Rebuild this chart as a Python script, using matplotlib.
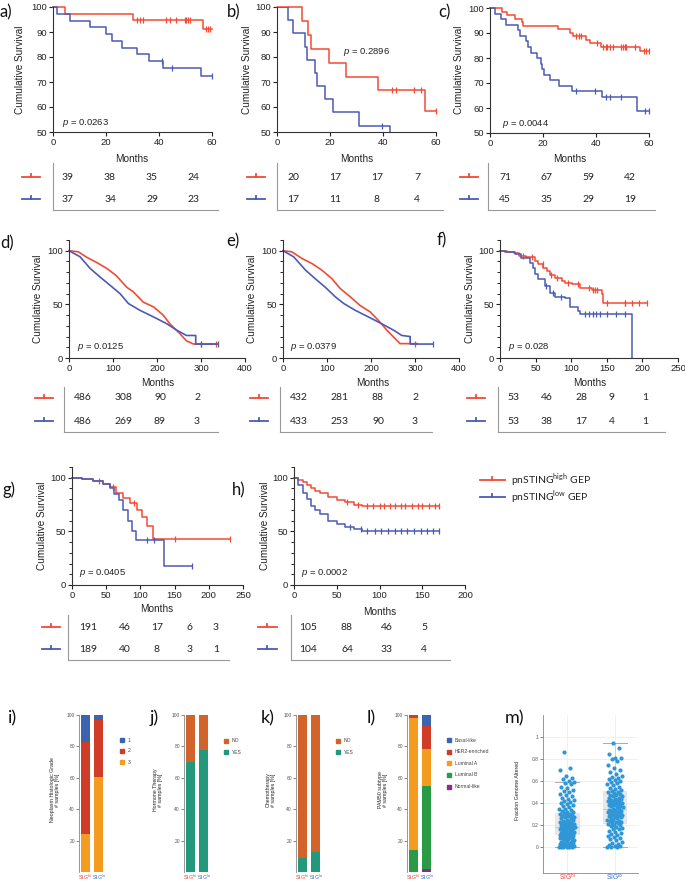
import numpy as np
import matplotlib
matplotlib.use('Agg')
import matplotlib.pyplot as plt

plt.rcParams['font.family'] = ['Liberation Sans', 'DejaVu Sans']
plt.rcParams['mathtext.fontset'] = 'custom'
plt.rcParams['mathtext.rm'] = 'Lato'
plt.rcParams['mathtext.it'] = 'Liberation Sans:italic'

RED = '#f24a35'
BLUE = '#4b5bb3'

# ---------------- Kaplan-Meier data ----------------
a_hi_t = [0, 4.7, 30.2, 56.6, 60]
a_hi_s = [100, 97.4, 94.9, 91.4, 91.4]
a_hi_c = [31.7, 32.7, 34, 42.8, 44, 46.5, 49.7, 50.3, 50.9, 51.6, 57.9, 58.5, 59.4]
a_lo_t = [0, 1.5, 6.5, 13.8, 19.9, 22.4, 26.2, 31.8, 36.1, 41.5, 55.7, 60]
a_lo_s = [100, 97.3, 94.6, 91.9, 89.2, 86.5, 83.8, 81.1, 78.4, 75.5, 72.3, 72.3]
a_lo_c = [41.1, 45, 60]
a_p = '0.0263'

b_hi_t = [0, 9.5, 11.7, 12.8, 19.7, 25.9, 38, 55.7, 60]
b_hi_s = [100, 94.4, 88.9, 83.3, 77.8, 72.2, 66.7, 58.3, 58.3]
b_hi_c = [43.3, 45, 51.8, 54.4, 60]
b_lo_t = [0, 4.2, 6.1, 10.5, 11.4, 14.3, 15.2, 18.1, 21.2, 31.1, 42.7]
b_lo_s = [100, 94.7, 89.5, 84.2, 78.9, 73.7, 68.4, 63.2, 57.9, 52.6, 47.4]
b_lo_c = [39.5]
b_p = '0.2896'

c_hi_t = [0, 4.4, 6.3, 9.4, 11.9, 12.6, 25.7, 30, 31.4, 36.4, 37.7, 41.7, 56.5, 60]
c_hi_s = [100, 98.6, 97.2, 95.8, 94.4, 93.0, 91.5, 90.1, 88.7, 87.3, 85.9, 84.4, 82.8, 82.8]
c_hi_c = [32.6, 33.5, 34.5, 40.5, 42.7, 43.6, 44.3, 45.2, 46.4, 49.6, 50.2, 50.8, 51.5, 54.6, 58, 59, 60]
c_lo_t = [0, 1.9, 4.1, 5.9, 10.7, 11.3, 13.6, 14.2, 15.4, 17.6, 19.2, 19.8, 20.5, 22.6, 26.1, 31, 42.4, 55.6, 60]
c_lo_s = [100, 97.8, 95.6, 93.3, 91.1, 88.9, 86.7, 84.4, 82.2, 80, 77.8, 75.6, 73.3, 71.1, 68.9, 66.7, 64.4, 59.0, 59.0]
c_lo_c = [32.3, 39.5, 43.6, 45.2, 49.3, 58.4, 60]
c_p = '0.0044'

d_hi_t = [0, 21, 40, 63, 86, 108, 131, 146, 169, 192, 214, 229, 252, 267, 283, 335]
d_hi_s = [100, 99, 94, 89, 83.5, 76.6, 66, 61.7, 52, 47.7, 40, 32, 22.7, 16, 13, 13]
d_hi_c = [300, 335]
d_lo_t = [0, 25, 48, 70, 93, 116, 135, 161, 192, 222, 245, 267, 288, 288, 338]
d_lo_s = [100, 94.4, 83.5, 75.7, 67.9, 60, 50.8, 44.5, 38.3, 32, 25.9, 21, 21, 13, 13]
d_lo_c = [300, 338]
d_p = '0.0125'

e_hi_t = [0, 20, 43, 66, 88, 111, 130, 153, 175, 198, 217, 236, 255, 266, 305]
e_hi_s = [100, 99, 92.8, 88, 82, 74, 64.8, 57, 49, 43, 35, 26, 18, 13.4, 13.4]
e_hi_c = [300]
e_lo_t = [0, 24, 51, 73, 96, 119, 138, 164, 194, 224, 251, 270, 289, 289, 340]
e_lo_s = [100, 94.4, 82, 74, 66, 57, 50.8, 44.5, 38.3, 32, 26, 21, 20, 13, 13]
e_lo_c = [340]
e_p = '0.0379'

f_hi_t = [0, 10, 19, 26, 37, 49, 54, 61, 66, 70, 77, 87, 91, 101, 113, 129, 143, 145, 206]
f_hi_s = [100, 98.5, 97.5, 95.3, 94, 90.8, 87.5, 84, 81, 77.6, 75, 72, 70, 68.6, 65.7, 63.5, 60, 51.7, 51.7]
f_hi_c = [32, 45, 60, 72, 80, 95, 110, 125, 130, 133, 136, 150, 175, 176, 185, 195, 206]
f_lo_t = [0, 7, 21, 30, 42, 47, 49, 54, 63, 70, 77, 91, 98, 110, 113, 185]
f_lo_s = [100, 98.5, 96.5, 93.5, 89, 84, 78, 73.5, 67, 61, 57, 55.5, 48, 43.7, 40.8, 0]
f_lo_c = [65, 75, 85, 120, 125, 130, 135, 140, 150, 163, 175]
f_p = '0.028'

g_hi_t = [0, 15, 30, 45, 55, 65, 75, 85, 95, 103, 110, 118, 231]
g_hi_s = [100, 99, 97, 94, 91, 86, 81, 76, 70, 63, 55, 43, 43]
g_hi_c = [40, 60, 90, 150, 231]
g_lo_t = [0, 15, 30, 45, 55, 62, 68, 75, 82, 88, 93, 130, 135, 175]
g_lo_s = [100, 99, 97, 94, 90, 85, 79, 70, 60, 50, 42, 42, 18, 18]
g_lo_c = [110, 120, 175]
g_p = '0.0405'

h_hi_t = [0, 5, 10, 15, 20, 25, 30, 40, 50, 60, 70, 80, 170]
h_hi_s = [100, 98, 96, 93, 90, 88, 86, 82, 79, 77, 75, 74, 74]
h_hi_c = [62, 75, 85, 92, 100, 105, 112, 118, 125, 130, 138, 145, 150, 158, 165, 170]
h_lo_t = [0, 5, 10, 15, 20, 25, 30, 40, 50, 60, 70, 80, 170]
h_lo_s = [100, 93, 86, 80, 74, 70, 66, 60, 57, 54, 52, 50, 50]
h_lo_c = [65, 78, 85, 95, 102, 110, 118, 125, 132, 140, 148, 155, 162, 170]
h_p = '0.0002'

# numbers at risk
a_risk = ([39, 38, 35, 24], [37, 34, 29, 23])
b_risk = ([20, 17, 17, 7], [17, 11, 8, 4])
c_risk = ([71, 67, 59, 42], [45, 35, 29, 19])
d_risk = ([486, 308, 90, 2], [486, 269, 89, 3])
e_risk = ([432, 281, 88, 2], [433, 253, 90, 3])
f_risk = ([53, 46, 28, 9, 1], [53, 38, 17, 4, 1])
g_risk = ([191, 46, 17, 6, 3], [189, 40, 8, 3, 1])
h_risk = ([105, 88, 46, 5], [104, 64, 33, 4])

# ---------------- bar panels ----------------
groups = ['hi', 'lo']
i_cats = ['3', '2', '1']
i_hi = [24.4, 58.6, 17.0]
i_lo = [60.5, 36.3, 3.2]
i_cols = ['#f39c1f', '#d13c27', '#3a64ad']
j_cats = ['YES', 'NO']
j_hi = [70.0, 30.0]
j_lo = [78.0, 22.0]
k_cats = ['YES', 'NO']
k_hi = [9.0, 91.0]
k_lo = [13.0, 87.0]
jk_cols = ['#24987a', '#d2632a']
l_cats = ['Normal-like', 'Luminal B', 'Luminal A', 'HER2-enriched', 'Basal-like']
l_hi = [0.0, 14.0, 84.0, 2.0, 0.0]
l_lo = [2.0, 53.0, 23.5, 14.7, 6.8]
l_cols = ['#8e2a8f', '#2a9a45', '#f39c1f', '#d13c27', '#3a64ad']

# ---------------- fraction genome altered ----------------
m_hi = [0.00, 0.00, 0.00, 0.00, 0.00, 0.00, 0.01, 0.01, 0.01, 0.02, 0.02, 0.02, 0.03, 0.03, 0.03,
        0.04, 0.04, 0.05, 0.05, 0.05, 0.06, 0.06, 0.07, 0.07, 0.07, 0.08, 0.08, 0.09, 0.09, 0.10,
        0.10, 0.10, 0.11, 0.11, 0.11, 0.12, 0.12, 0.12, 0.13, 0.13, 0.13, 0.14, 0.14, 0.14, 0.15,
        0.15, 0.15, 0.16, 0.16, 0.16, 0.17, 0.17, 0.17, 0.18, 0.18, 0.18, 0.19, 0.19, 0.19, 0.20,
        0.20, 0.20, 0.21, 0.21, 0.22, 0.22, 0.22, 0.23, 0.23, 0.24, 0.24, 0.25, 0.25, 0.26, 0.26,
        0.27, 0.27, 0.28, 0.28, 0.29, 0.29, 0.30, 0.30, 0.31, 0.32, 0.32, 0.33, 0.34, 0.35, 0.35,
        0.36, 0.37, 0.38, 0.39, 0.40, 0.41, 0.42, 0.43, 0.44, 0.45, 0.46, 0.47, 0.48, 0.50, 0.51,
        0.52, 0.54, 0.55, 0.57, 0.58, 0.59, 0.60, 0.62, 0.63, 0.65, 0.70, 0.72, 0.86]
m_lo = [0.00, 0.00, 0.00, 0.01, 0.01, 0.02, 0.03, 0.04, 0.05, 0.06, 0.07, 0.08, 0.09, 0.10, 0.11,
        0.12, 0.13, 0.14, 0.15, 0.16, 0.16, 0.17, 0.18, 0.19, 0.20, 0.20, 0.21, 0.22, 0.22, 0.23,
        0.23, 0.24, 0.24, 0.25, 0.25, 0.26, 0.26, 0.27, 0.27, 0.28, 0.28, 0.29, 0.29, 0.30, 0.30,
        0.31, 0.31, 0.32, 0.32, 0.33, 0.33, 0.34, 0.34, 0.35, 0.35, 0.36, 0.36, 0.37, 0.37, 0.38,
        0.38, 0.39, 0.39, 0.40, 0.40, 0.41, 0.41, 0.42, 0.42, 0.43, 0.43, 0.44, 0.44, 0.45, 0.45,
        0.46, 0.46, 0.47, 0.47, 0.48, 0.49, 0.50, 0.50, 0.51, 0.52, 0.53, 0.54, 0.55, 0.56, 0.57,
        0.58, 0.59, 0.60, 0.61, 0.62, 0.63, 0.64, 0.65, 0.66, 0.68, 0.70, 0.72, 0.75, 0.78, 0.80,
        0.81, 0.81, 0.85, 0.90, 0.95]
m_q1 = [0.12, 0.22]
m_med = [0.18, 0.35]
m_q3 = [0.31, 0.51]
m_wlo = [0.0, 0.0]
m_whi = [0.59, 0.95]

# =====================================================
W, H = 685, 884
fig = plt.figure(figsize=(W / 100, H / 100), dpi=100)


def add_ax(x0, y0, x1, y1):
    return fig.add_axes([x0 / W, 1 - y1 / H, (x1 - x0) / W, (y1 - y0) / H])


def surv_at(t, times, surv):
    idx = np.searchsorted(np.asarray(times), np.asarray(t), side='right') - 1
    return np.asarray(surv)[np.clip(idx, 0, len(surv) - 1)]


def km(ax, times, surv, cens, color, step=True, clip=False):
    if step:
        ax.step(times, surv, where='post', color=color, lw=1.1, clip_on=clip)
        cy = surv_at(cens, times, surv)
    else:
        ax.plot(times, surv, color=color, lw=1.2, clip_on=clip)
        cy = np.interp(cens, times, surv)
    ax.plot(cens, cy, ls='none', marker='|', ms=4, mew=0.9, color=color, clip_on=False)


def km_axes(box, xmax, xticks, ylo, yhi, yticks, minor=None):
    ax = add_ax(*box)
    ax.set_xlim(0, xmax)
    ax.set_ylim(ylo, yhi)
    for s in ['top', 'right']:
        ax.spines[s].set_visible(False)
    for s in ['left', 'bottom']:
        ax.spines[s].set_linewidth(0.8)
        ax.spines[s].set_color('#333333')
    ax.set_xticks(xticks)
    ax.set_yticks(yticks)
    if minor is not None:
        ax.set_yticks(minor, minor=True)
    ax.tick_params(labelsize=6.8, length=3, width=0.8, pad=1.5, colors='#222222')
    ax.tick_params(which='minor', length=2, width=0.6)
    ax.patch.set_alpha(0)
    return ax


ov = fig.add_axes([0, 0, 1, 1])
ov.set_xlim(0, W)
ov.set_ylim(H, 0)
ov.axis('off')
ov.patch.set_alpha(0)
ov.set_zorder(10)


def ylabel(x, y, txt, size=7.2):
    ov.text(x, y, txt, rotation=90, ha='center', va='center', fontsize=size, color='#222222')


def months(x, y):
    ov.text(x, y, 'Months', ha='center', va='center', fontsize=7.2, color='#222222')


def plab(x, y, txt, size=12):
    ov.text(x, y, txt, ha='left', va='center', fontsize=size, family=['Lato', 'DejaVu Sans'], color='#111111')


def tmark(x0, x1, y, color):
    ov.plot([x0, x1], [y, y], color=color, lw=1.3)
    ov.plot([(x0 + x1) / 2] * 2, [y, y - 3.5], color=color, lw=1.3)


def table(risk, xs, rows, mark, vx, vtop, hx1, hy):
    for r, col, ry in zip(risk, [RED, BLUE], rows):
        tmark(mark[0], mark[1], ry, col)
        for v, x in zip(r, xs):
            ov.text(x, ry, str(v), ha='center', va='center', fontsize=7.5,
                    family=['Lato', 'DejaVu Sans'], color='#222222')
    ov.plot([vx, vx], [vtop, hy], color='#999999', lw=0.8)
    ov.plot([vx, hx1], [hy, hy], color='#999999', lw=0.8)


def ptext(ax, x, y, p):
    ax.text(x, y, r'$p$ = ' + p, transform=ax.transAxes, fontsize=6.8, va='center', color='#222222')


yt1 = [50, 60, 70, 80, 90, 100]
ymin2 = [10, 20, 30, 40, 60, 70, 80, 90, 110]

# ---- row 1 ----
ax = km_axes((53, 7, 212, 132), 60, [0, 20, 40, 60], 50, 100, yt1)
km(ax, a_hi_t, a_hi_s, a_hi_c, RED)
km(ax, a_lo_t, a_lo_s, a_lo_c, BLUE)
ptext(ax, 0.057, 0.07, a_p)
ax = km_axes((277, 7, 436, 132), 60, [0, 20, 40, 60], 50, 100, yt1)
km(ax, b_hi_t, b_hi_s, b_hi_c, RED)
km(ax, b_lo_t, b_lo_s, b_lo_c, BLUE, clip=True)
ptext(ax, 0.415, 0.64, b_p)
ax = km_axes((490, 8, 649, 133), 60, [0, 20, 40, 60], 50, 100, yt1)
km(ax, c_hi_t, c_hi_s, c_hi_c, RED)
km(ax, c_lo_t, c_lo_s, c_lo_c, BLUE)
ptext(ax, 0.075, 0.07, c_p)

# ---- row 2 ----
ax = km_axes((69, 240, 245, 358), 400, [0, 100, 200, 300, 400], 0, 110, [0, 50, 100], ymin2)
km(ax, d_hi_t, d_hi_s, d_hi_c, RED, step=False)
km(ax, d_lo_t, d_lo_s, d_lo_c, BLUE, step=False)
ptext(ax, 0.045, 0.095, d_p)
ax = km_axes((283, 240, 459, 358), 400, [0, 100, 200, 300, 400], 0, 110, [0, 50, 100], ymin2)
km(ax, e_hi_t, e_hi_s, e_hi_c, RED, step=False)
km(ax, e_lo_t, e_lo_s, e_lo_c, BLUE, step=False)
ptext(ax, 0.04, 0.095, e_p)
ax = km_axes((500, 240, 678, 358), 250, [0, 50, 100, 150, 200, 250], 0, 110, [0, 50, 100], ymin2)
km(ax, f_hi_t, f_hi_s, f_hi_c, RED)
km(ax, f_lo_t, f_lo_s, f_lo_c, BLUE)
ptext(ax, 0.045, 0.095, f_p)

# ---- row 3 ----
ax = km_axes((72, 467, 243, 585), 250, [0, 50, 100, 150, 200, 250], 0, 110, [0, 50, 100], ymin2)
km(ax, g_hi_t, g_hi_s, g_hi_c, RED)
km(ax, g_lo_t, g_lo_s, g_lo_c, BLUE)
ptext(ax, 0.04, 0.1, g_p)
ax = km_axes((294, 467, 465, 585), 200, [0, 50, 100, 150, 200], 0, 110, [0, 50, 100], ymin2)
km(ax, h_hi_t, h_hi_s, h_hi_c, RED)
km(ax, h_lo_t, h_lo_s, h_lo_c, BLUE)
ptext(ax, 0.04, 0.1, h_p)

# labels
for x, y in [(20, 70), (247, 70), (459, 70), (38, 299), (252, 299), (470, 299), (42, 526), (265, 526)]:
    ylabel(x, y, 'Cumulative Survival')
for x, y in [(132, 159), (357, 159), (570, 159), (158, 383), (373, 383), (590, 383), (157, 609), (380, 612)]:
    months(x, y)
for x, y, t in [(0, 12, 'a)'), (227, 12, 'b)'), (438, 12, 'c)'), (0, 243, 'd)'), (226, 241, 'e)'),
                (437, 240, 'f)'), (3, 490, 'g)'), (232, 490, 'h)')]:
    plab(x, y, t)

# tables
table(a_risk, [68, 110, 152, 193], [177, 199], (22, 40), 53, 163, 218, 210)
table(b_risk, [293, 335, 377, 417], [177, 199], (247, 265), 277, 163, 443, 210)
table(c_risk, [505, 547, 588, 630], [177, 199], (460, 478), 488, 163, 655, 210)
table(d_risk, [83, 123, 160, 197], [398, 421], (35, 53), 64, 387, 218, 432)
table(e_risk, [299, 339, 378, 415], [398, 421], (250, 268), 280, 387, 432, 432)
table(f_risk, [513, 547, 581, 612, 645], [398, 421], (467, 485), 498, 387, 665, 432)
table(g_risk, [88, 125, 157, 190, 216], [627, 649], (42, 60), 68, 615, 229, 660)
table(h_risk, [308, 347, 387, 424], [627, 649], (258, 277), 291, 615, 450, 660)

# legend
tmark(480, 505, 480, RED)
tmark(480, 505, 497, BLUE)
ov.text(511, 480, r'pnSTING$^{\mathrm{high}}$ GEP', va='center', fontsize=7.5, family=['Lato', 'DejaVu Sans'], color='#222222')
ov.text(511, 497, r'pnSTING$^{\mathrm{low}}$ GEP', va='center', fontsize=7.5, family=['Lato', 'DejaVu Sans'], color='#222222')

# ---- bottom row: stacked bars ----
SIGRED = '#e8453c'
SIGBLUE = '#3f6fc0'


def sig_labels(x0, x1, y=877, size=3.9):
    ov.text(x0, y, r'SIG$^{\mathrm{hi}}$', ha='center', va='center', fontsize=size, color=SIGRED)
    ov.text(x1, y, r'SIG$^{\mathrm{lo}}$', ha='center', va='center', fontsize=size, color=SIGBLUE)


def bar_panel(axx, hi, lo, cols, cats, ylab, ylx, legx, legys):
    ax = add_ax(axx, 715, axx + 28, 872)
    ax.set_xlim(-0.5, 1.65)
    ax.set_ylim(0, 100)
    bot = np.zeros(2)
    for h_, l_, c in zip(hi, lo, cols):
        vals = np.array([h_, l_])
        ax.bar([0, 1], vals, bottom=bot, width=0.62, color=c, lw=0)
        bot = bot + vals
    for s in ['top', 'right', 'bottom']:
        ax.spines[s].set_visible(False)
    ax.spines['left'].set_color('#888888')
    ax.spines['left'].set_linewidth(0.6)
    ax.set_xticks([])
    ax.set_yticks([20, 40, 60, 80, 100])
    ax.tick_params(labelsize=3.5, length=2, width=0.5, pad=1, colors='#555555')
    ax.patch.set_alpha(0)
    ylabel(ylx, 790, ylab, size=3.8)
    for cat, c, ly in zip(cats[::-1], cols[::-1], legys):
        ov.plot([legx], [ly], marker='s', ms=2.8, color=c, ls='none')
        ov.text(legx + 6, ly, cat, va='center', fontsize=3.6, color='#444444')
    c0 = axx + 6.5
    sig_labels(c0 - 0.5, c0 + 13.5)


bar_panel(79, i_hi, i_lo, i_cols, i_cats, 'Neoplasm Histologic Grade\n# samples [%]', 55, 122, [740, 751, 762])
bar_panel(184, j_hi, j_lo, jk_cols, j_cats, 'Hormone Therapy\n# samples [%]', 158, 226, [741, 752])
bar_panel(296, k_hi, k_lo, jk_cols, k_cats, 'Chemotherapy\n# samples [%]', 271, 338, [741, 752])
bar_panel(407, l_hi, l_lo, l_cols, l_cats, 'PAM50 subtype\n# samples [%]', 383, 449, [740, 751.7, 763.3, 775, 786.7])

# ---- m) ----
ax = add_ax(543, 715, 638, 873)
ax.set_xlim(-0.5, 1.48)
ax.set_ylim(-0.236, 1.2)
ax.grid(color='#eeeeee', lw=0.6)
ax.set_axisbelow(True)
stats = [dict(med=m_med[i], q1=m_q1[i], q3=m_q3[i], whislo=m_wlo[i], whishi=m_whi[i], fliers=[])
         for i in range(2)]
ax.bxp(stats, positions=[0, 1], widths=0.48, patch_artist=True, showfliers=False,
       boxprops=dict(facecolor='#e8e8e8', edgecolor='#e0e0e0', lw=0.5),
       medianprops=dict(color='#c8c8c8', lw=0.8),
       whiskerprops=dict(color='#cccccc', lw=0.6),
       capprops=dict(color='#aaaaaa', lw=0.7), capwidths=0.5)
for pos, vals in zip([0, 1], [m_hi, m_lo]):
    n = len(vals)
    off = ((np.arange(n) * 0.618034) % 1 - 0.5) * 0.32
    ax.scatter(pos + off, vals, s=9, color='#2f97d8', lw=0, zorder=3)
for s in ['top', 'right']:
    ax.spines[s].set_visible(False)
for s in ['left', 'bottom']:
    ax.spines[s].set_color('#888888')
    ax.spines[s].set_linewidth(0.6)
ax.set_xticks([0, 1])
ax.set_xticklabels([])
ax.set_yticks([0, 0.2, 0.4, 0.6, 0.8, 1.0])
ax.set_yticklabels(['0', '0.2', '0.4', '0.6', '0.8', '1'])
ax.tick_params(labelsize=3.5, length=2, width=0.5, pad=1, colors='#555555')
ax.tick_params(axis='x', length=0)
ylabel(518, 790, 'Fraction Genome Altered', size=3.8)
sig_labels(567, 615, size=4.8)

for x, t in [(8, 'i)'), (150, 'j)'), (261, 'k)'), (367, 'l)'), (505, 'm)')]:
    plab(x, 718, t, size=13)

fig.savefig('out.png', dpi=100)
